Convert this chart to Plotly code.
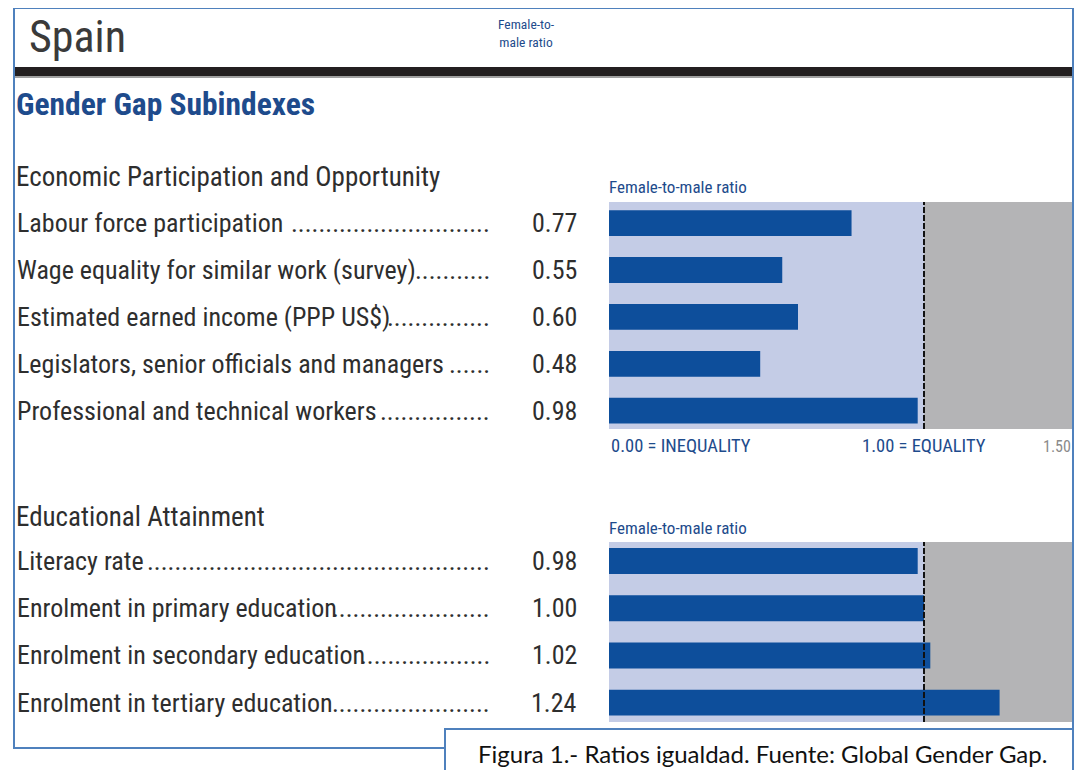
import plotly.graph_objects as go

# ---------------- data ----------------
econ_labels = [
    "Labour force participation",
    "Wage equality for similar work (survey)",
    "Estimated earned income (PPP US$)",
    "Legislators, senior officials and managers",
    "Professional and technical workers",
]
econ_values = [0.77, 0.55, 0.60, 0.48, 0.98]

edu_labels = [
    "Literacy rate",
    "Enrolment in primary education",
    "Enrolment in secondary education",
    "Enrolment in tertiary education",
]
edu_values = [0.98, 1.00, 1.02, 1.24]

axis_min, equality, axis_max = 0.0, 1.0, 1.5
axis_texts = ["0.00 = INEQUALITY", "1.00 = EQUALITY", "1.50"]

# ---------------- style ----------------
# the page body has an 8px margin; keep the figure inside the window (no scrollbars)
OFF = 8
W, H = 1082 - 2 * OFF, 778 - 2 * OFF
def fx(px): return (px - OFF) / W
def fy(py): return 1 - (py - OFF) / H

PLOT_L, PLOT_R = 609, 1074          # pixel extent of the bar panels
PX_PER_UNIT = 315                   # pixels per unit of ratio
x_range = [axis_min, axis_min + (PLOT_R - PLOT_L) / PX_PER_UNIT]

BAR = "#0d4e9b"
LIGHT = "#c4cce6"
GREY = "#b4b4b6"
NAVY = "#1e4b8c"
TXT = "#2e2e2e"
FRAME = "#4f81bd"
COND = "Liberation Sans Narrow, Arial Narrow, Roboto Condensed, DejaVu Sans Condensed, Liberation Sans, sans-serif"
LABEL_SIZE = 26
# dot-leader lengths (number of dots) per row, so that leaders end at the value column
econ_leaders = [29, 11, 15, 6, 16]
edu_leaders = [50, 23, 19, 23]

fig = go.Figure()
fig.add_trace(go.Bar(x=econ_values, y=econ_labels, orientation="h", width=0.55,
                     marker=dict(color=BAR, line=dict(width=0)),
                     xaxis="x", yaxis="y", hoverinfo="x+y", showlegend=False))
fig.add_trace(go.Bar(x=edu_values, y=edu_labels, orientation="h", width=0.55,
                     marker=dict(color=BAR, line=dict(width=0)),
                     xaxis="x2", yaxis="y2", hoverinfo="x+y", showlegend=False))

hidden = dict(showgrid=False, zeroline=False, showticklabels=False, ticks="", showline=False, fixedrange=True)
fig.update_layout(
    width=W, height=H, margin=dict(l=0, r=0, t=0, b=0),
    paper_bgcolor="white", plot_bgcolor="rgba(0,0,0,0)",
    xaxis=dict(domain=[fx(PLOT_L), fx(PLOT_R)], range=x_range, anchor="y", **hidden),
    yaxis=dict(domain=[fy(429), fy(202)], range=[len(econ_labels) - 1 + 0.39, -0.45],
               type="category", anchor="x", **hidden),
    xaxis2=dict(domain=[fx(PLOT_L), fx(PLOT_R)], range=x_range, anchor="y2", **hidden),
    yaxis2=dict(domain=[fy(722), fy(542)], range=[len(edu_labels) - 1 + 0.41, -0.40],
                type="category", anchor="x2", **hidden),
)

shapes = []
for xr, yr in (("x", "y"), ("x2", "y2")):
    shapes.append(dict(type="rect", xref=xr, yref=yr + " domain", x0=axis_min, x1=equality, y0=0, y1=1,
                       fillcolor=LIGHT, line=dict(width=0), layer="below"))
    shapes.append(dict(type="rect", xref=xr, yref=yr + " domain", x0=equality, x1=axis_max, y0=0, y1=1,
                       fillcolor=GREY, line=dict(width=0), layer="below"))
    shapes.append(dict(type="line", xref=xr, yref=yr + " domain", x0=equality, x1=equality, y0=0, y1=1,
                       line=dict(color="#111111", width=2, dash="6px,2px"), layer="above"))

# header bar and frames
shapes.append(dict(type="rect", xref="paper", yref="paper", x0=fx(15), x1=fx(1074), y0=fy(76), y1=fy(67),
                   fillcolor="#231f20", line=dict(width=0)))
shapes.append(dict(type="rect", xref="paper", yref="paper", x0=fx(15), x1=fx(1074), y0=fy(78), y1=fy(76),
                   fillcolor="#a0a0a0", line=dict(width=0)))
shapes.append(dict(type="rect", xref="paper", yref="paper", x0=fx(14), x1=fx(1073), y0=fy(748), y1=fy(8),
                   fillcolor="rgba(0,0,0,0)", line=dict(color=FRAME, width=2)))
shapes.append(dict(type="rect", xref="paper", yref="paper", x0=fx(445), x1=fx(1073), y0=fy(800), y1=fy(729),
                   fillcolor="white", line=dict(color=FRAME, width=2)))
fig.update_layout(shapes=shapes)

ann = []
def A(text, x, y, size, color=TXT, xanchor="left", family=COND, xref="paper", yref="paper", **kw):
    ann.append(dict(text=text, x=x, y=y, xref=xref, yref=yref, xanchor=xanchor, yanchor="middle",
                    showarrow=False, font=dict(size=size, color=color, family=family), **kw))

A("Spain", fx(27), fy(37), 44, color="#3a3a3a")
A("Female-to-<br>male ratio", fx(526), fy(33), 13.5, color=NAVY, xanchor="center")
A("<b>Gender Gap Subindexes</b>", fx(14), fy(104), 31.5, color=NAVY)
A("Economic Participation and Opportunity", fx(14), fy(177), 27)
A("Educational Attainment", fx(14), fy(517), 27)
A("Female-to-male ratio", fx(607), fy(187), 17, color=NAVY)
A("Female-to-male ratio", fx(607), fy(528), 17, color=NAVY)

def rows(labels, values, leaders, yref):
    for lab, v, n in zip(labels, values, leaders):
        A("." * n, fx(492), lab, LABEL_SIZE, xanchor="right", yref=yref)
        A(lab, fx(15), lab, LABEL_SIZE, yref=yref)
        A(f"{v:.2f}", fx(579), lab, LABEL_SIZE, xanchor="right", yref=yref)

rows(econ_labels, econ_values, econ_leaders, "y")
rows(edu_labels, edu_values, edu_leaders, "y2")

# scale captions under the first chart
A(axis_texts[0], axis_min, fy(446), 18.5, color=NAVY, xref="x")
A(axis_texts[1], equality, fy(446), 18.5, color=NAVY, xref="x", xanchor="center")
A(axis_texts[2], fx(1073), fy(446), 16, color="#8a8a8a", xanchor="right")

A("Figura 1.- Ratios igualdad. Fuente: Global Gender Gap.", fx(762), fy(753), 24,
  color="#111111", xanchor="center", family="Lato, Carlito, Open Sans, sans-serif")

fig.update_layout(annotations=ann)
fig.write_html("out.html")
